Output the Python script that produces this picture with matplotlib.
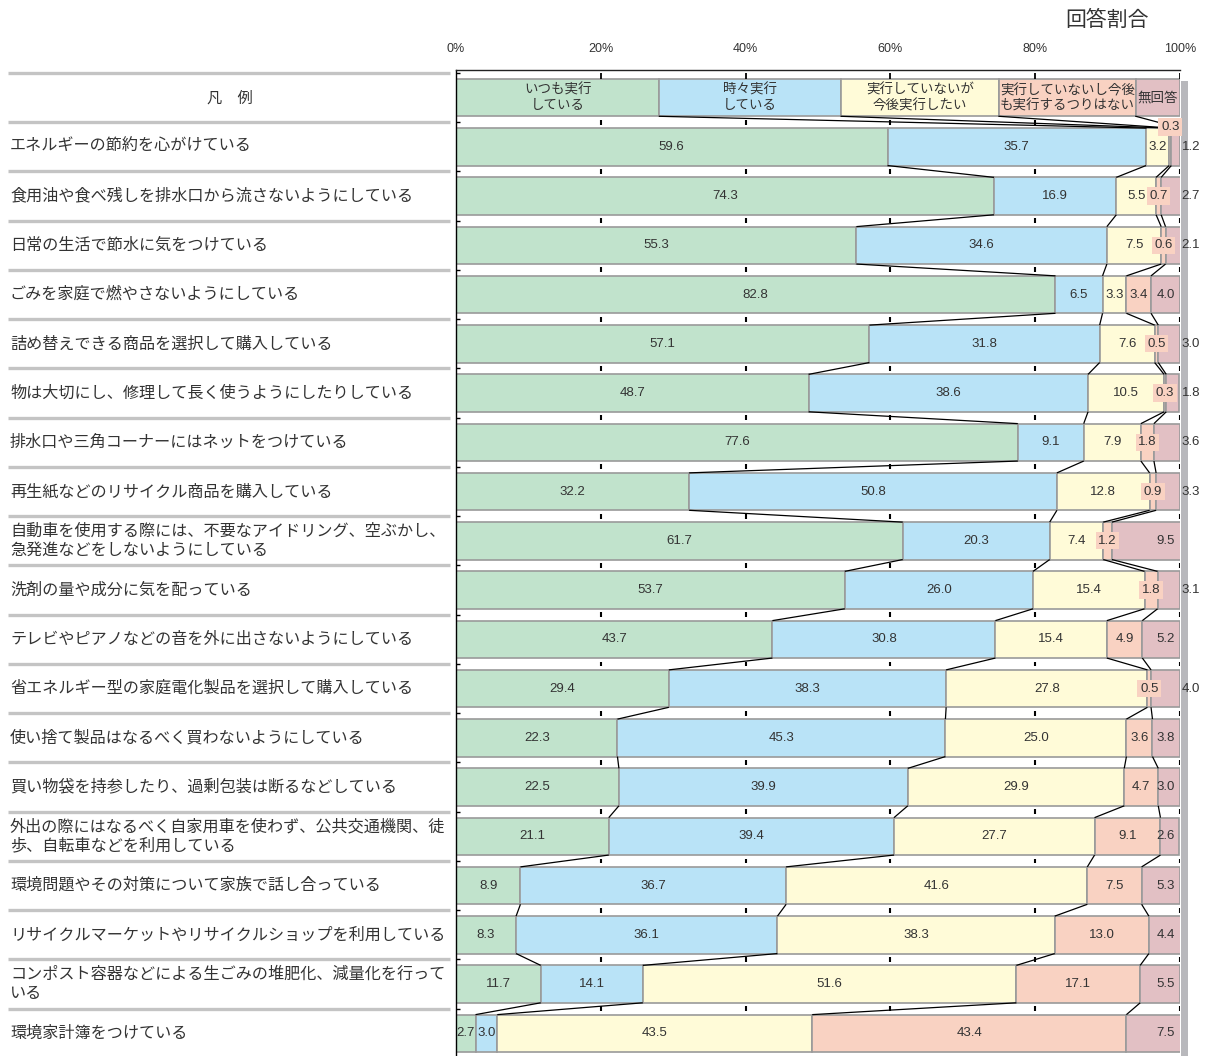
import matplotlib
matplotlib.use("Agg")
import matplotlib.pyplot as plt
from matplotlib.patches import Rectangle
from matplotlib.transforms import blended_transform_factory
import numpy as np

plt.rcParams['font.family'] = ['Noto Sans CJK JP', 'DejaVu Sans']

# ---- data -------------------------------------------------------------
items = [
    "エネルギーの節約を心がけている",
    "食用油や食べ残しを排水口から流さないようにしている",
    "日常の生活で節水に気をつけている",
    "ごみを家庭で燃やさないようにしている",
    "詰め替えできる商品を選択して購入している",
    "物は大切にし、修理して長く使うようにしたりしている",
    "排水口や三角コーナーにはネットをつけている",
    "再生紙などのリサイクル商品を購入している",
    "自動車を使用する際には、不要なアイドリング、空ぶかし、\n急発進などをしないようにしている",
    "洗剤の量や成分に気を配っている",
    "テレビやピアノなどの音を外に出さないようにしている",
    "省エネルギー型の家庭電化製品を選択して購入している",
    "使い捨て製品はなるべく買わないようにしている",
    "買い物袋を持参したり、過剰包装は断るなどしている",
    "外出の際にはなるべく自家用車を使わず、公共交通機関、徒\n歩、自転車などを利用している",
    "環境問題やその対策について家族で話し合っている",
    "リサイクルマーケットやリサイクルショップを利用している",
    "コンポスト容器などによる生ごみの堆肥化、減量化を行って\nいる",
    "環境家計簿をつけている",
]

always = [59.6, 74.3, 55.3, 82.8, 57.1, 48.7, 77.6, 32.2, 61.7, 53.7,
          43.7, 29.4, 22.3, 22.5, 21.1, 8.9, 8.3, 11.7, 2.7]
sometimes = [35.7, 16.9, 34.6, 6.5, 31.8, 38.6, 9.1, 50.8, 20.3, 26.0,
             30.8, 38.3, 45.3, 39.9, 39.4, 36.7, 36.1, 14.1, 3.0]
want_to = [3.2, 5.5, 7.5, 3.3, 7.6, 10.5, 7.9, 12.8, 7.4, 15.4,
           15.4, 27.8, 25.0, 29.9, 27.7, 41.6, 38.3, 51.6, 43.5]
never = [0.3, 0.7, 0.6, 3.4, 0.5, 0.3, 1.8, 0.9, 1.2, 1.8,
         4.9, 0.5, 3.6, 4.7, 9.1, 7.5, 13.0, 17.1, 43.4]
no_answer = [1.2, 2.7, 2.1, 4.0, 3.0, 1.8, 3.6, 3.3, 9.5, 3.1,
             5.2, 4.0, 3.8, 3.0, 2.6, 5.3, 4.4, 5.5, 7.5]

categories = ["いつも実行\nしている", "時々実行\nしている", "実行していないが\n今後実行したい",
              "実行していないし今後\nも実行するつりはない", "無回答"]
legend_widths = [28.1, 25.1, 21.8, 18.9, 6.1]
x_ticks = [0, 20, 40, 60, 80, 100]
x_ticklabels = ["0%", "20%", "40%", "60%", "80%", "100%"]

colors = ["#c1e3cc", "#b9e3f7", "#fffbd8", "#f9d2c2", "#e2c0c4"]
edge = "#9a9a9a"
text_c = "#333333"
num_font = "Liberation Sans"

series = [always, sometimes, want_to, never, no_answer]
n = len(items)

# ---- figure -----------------------------------------------------------
W, H = 1208, 1056
fig = plt.figure(figsize=(W / 100, H / 100), dpi=100)
ax = fig.add_axes([456 / W, 0, 724 / W, 986 / H])
ax.set_xlim(0, 100)
ax.set_ylim(n + 0.46, -0.56)

bar_h = 0.76
rows = np.arange(1, n + 1)

# legend row (row 0)
left = 0.0
for w, c, lab in zip(legend_widths, colors, categories):
    ax.barh(0, w, left=left, height=bar_h, color=c, edgecolor=edge, lw=1.2, zorder=2)
    ax.text(left + w / 2, 0, lab, ha="center", va="center", fontsize=9.7,
            color=text_c, linespacing=1.1, zorder=4)
    left += w
legend_cum = np.cumsum(legend_widths)

# data rows
data = np.array(series).T  # shape (n, 5)
cum = np.cumsum(data, axis=1)
starts = cum - data
for k in range(5):
    ax.barh(rows, data[:, k], left=starts[:, k], height=bar_h, color=colors[k],
            edgecolor=edge, lw=1.2, zorder=2)

# connector lines between neighbouring bars
for i in range(n - 1):
    for k in range(4):
        ax.plot([cum[i, k], cum[i + 1, k]], [rows[i] + bar_h / 2, rows[i + 1] - bar_h / 2],
                color="black", lw=0.9, zorder=3, solid_capstyle="butt")
# legend row to first row
for k in range(4):
    ax.plot([legend_cum[k], cum[0, k + 1]], [bar_h / 2, 1 - bar_h / 2],
            color="black", lw=0.9, zorder=3)

# value labels
for i in range(n):
    y = rows[i]
    for k in range(5):
        v = data[i, k]
        s = f"{v:.1f}"
        xc = starts[i, k] + v / 2
        if k == 3 and v < 2:
            yy = y - 0.4 if i == 0 else y
            ax.text(xc, yy, s, ha="center", va="center", fontsize=9.5, family=num_font,
                    color=text_c, zorder=5,
                    bbox=dict(boxstyle="square,pad=0.2", fc=colors[3], ec="none"))
        elif k == 4:
            if data[i, 3] < 2 and v < 5:
                ax.text(101.5, y, s, ha="center", va="center", fontsize=9.5,
                        family=num_font, color=text_c, zorder=5, clip_on=False)
            else:
                ax.text(99.3, y, s, ha="right", va="center", fontsize=9.5,
                        family=num_font, color=text_c, zorder=5)
        else:
            ax.text(xc, y, s, ha="center", va="center", fontsize=9.5, family=num_font,
                    color=text_c, zorder=5)

# grey shadow strip on the right
ax.add_patch(Rectangle((100.15, -0.34), 0.95, n + 0.84, color="#b8b8bc",
                       lw=0, clip_on=False, zorder=1))

# axis styling
for s in ["right", "bottom"]:
    ax.spines[s].set_visible(False)
ax.spines["left"].set_linewidth(1.0)
ax.spines["top"].set_linewidth(1.0)
ax.spines["top"].set_color("#222222")
ax.xaxis.set_ticks_position("top")
ax.set_xticks(x_ticks)
ax.set_xticklabels(x_ticklabels, fontsize=9, family=num_font, color=text_c)
ax.tick_params(axis="x", length=0, pad=11)
bounds = np.arange(-0.5, n, 1.0)
ax.set_yticks(bounds)
ax.set_yticklabels([])
ax.tick_params(axis="y", direction="in", length=3, width=1, color="black")

# small tick marks at each row boundary
for b in bounds:
    if b < 0:
        ax.vlines(x_ticks[1:], b, b + 0.13, color="black", lw=1.3, zorder=3)
    else:
        ax.vlines(x_ticks[1:], b - 0.05, b + 0.05, color="black", lw=1.5, zorder=3)

# left-hand item labels and separators
tr = blended_transform_factory(fig.transFigure, ax.transData)
for b in bounds:
    ax.plot([8 / W, 450 / W], [b, b], transform=tr, color="#c4c4c4", lw=2.4,
            clip_on=False, solid_capstyle="butt")
ax.text(230 / W, 0, "凡　例", transform=tr, ha="center", va="center",
        fontsize=11, color=text_c)
for i, lab in enumerate(items):
    ax.text(10 / W, rows[i], lab, transform=tr, ha="left", va="center",
            fontsize=11.6, color=text_c, linespacing=1.15)

fig.text(1107 / W, 1 - 20 / H, "回答割合", ha="center", va="center",
         fontsize=15, color=text_c)

fig.savefig("out.png", dpi=100)
